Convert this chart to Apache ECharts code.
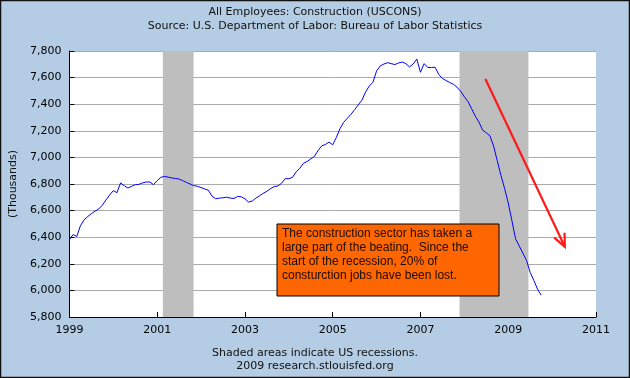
<!DOCTYPE html>
<html>
<head>
<meta charset="utf-8">
<script src="https://cdn.jsdelivr.net/npm/echarts@6/dist/echarts.min.js"></script>
<style>html,body{margin:0;padding:0;background:#b4cde4;}#c{width:630px;height:378px;}</style>
</head>
<body>
<div id="c"></div>
<script>
// Monthly values (thousands)
const firstYear = 1999;
const y1999 = [6380, 6420, 6405, 6485, 6530, 6555, 6577, 6595, 6612, 6640, 6680, 6717];
const y2000 = [6750, 6735, 6808, 6787, 6770, 6782, 6795, 6797, 6808, 6815, 6815, 6795];
const y2001 = [6825, 6850, 6857, 6852, 6845, 6842, 6837, 6825, 6812, 6800, 6788, 6783];
const y2002 = [6773, 6763, 6753, 6709, 6689, 6694, 6696, 6701, 6694, 6691, 6706, 6704];
const y2003 = [6689, 6664, 6672, 6694, 6711, 6730, 6745, 6765, 6780, 6785, 6805, 6840];
const y2004 = [6840, 6850, 6891, 6918, 6956, 6969, 6989, 7007, 7052, 7087, 7097, 7115];
const y2005 = [7095, 7150, 7216, 7264, 7294, 7324, 7359, 7395, 7430, 7493, 7536, 7565];
const y2006 = [7650, 7688, 7702, 7712, 7705, 7698, 7710, 7717, 7705, 7680, 7702, 7739];
const y2007 = [7640, 7705, 7676, 7676, 7678, 7624, 7593, 7578, 7563, 7550, 7528, 7497];
const y2008 = [7456, 7420, 7365, 7310, 7265, 7205, 7185, 7162, 7085, 6975, 6865, 6768];
const y2009 = [6658, 6525, 6388, 6335, 6280, 6225, 6135, 6075, 6010, 5965];

const recessionStart = [2001.13, 2007.89];
const recessionEnd   = [2001.83, 2009.46];

const titleText = 'All Employees: Construction (USCONS)';
const subtitleText = 'Source: U.S. Department of Labor: Bureau of Labor Statistics';
const footer1 = 'Shaded areas indicate US recessions.';
const footer2 = '2009 research.stlouisfed.org';
const yAxisName = '(Thousands)';
const noteText = 'The construction sector has taken a\nlarge part of the beating.  Since the\nstart of the recession, 20% of\nconsturction jobs have been lost.';
const arrowFrom = [2008.48, 7589];
const arrowTo = [2010.29, 6328];

const allValues = [].concat(y1999, y2000, y2001, y2002, y2003, y2004, y2005, y2006, y2007, y2008, y2009);
const seriesData = allValues.map((v, i) => [firstYear + i / 12, v]);

const chart = echarts.init(document.getElementById('c'), null, {renderer: 'canvas'});
const axisFont = {fontFamily: 'DejaVu Sans', fontSize: 11, color: '#000'};
const textStyle = {fontFamily: 'DejaVu Sans', fontSize: 11, fontWeight: 'normal', color: '#111'};

chart.setOption({
  backgroundColor: '#b4cde4',
  animation: false,
  title: [
    {text: titleText, left: 'center', top: 2, textStyle: textStyle},
    {text: subtitleText, left: 'center', top: 16, textStyle: textStyle},
    {text: footer1, left: 'center', top: 343, textStyle: textStyle},
    {text: footer2, left: 'center', top: 356, textStyle: textStyle}
  ],
  grid: {left: 67, right: 34, top: 51, bottom: 61, show: true, backgroundColor: '#fff', borderWidth: 0},
  xAxis: {
    type: 'value', min: 1999, max: 2011, interval: 2,
    axisLine: {show: true, lineStyle: {color: '#000', width: 1}},
    axisTick: {show: true, inside: true, length: 5, lineStyle: {color: '#000'}},
    axisLabel: Object.assign({margin: 8, formatter: v => String(v)}, axisFont),
    splitLine: {show: false}
  },
  yAxis: {
    type: 'value', min: 5800, max: 7800, interval: 200,
    name: yAxisName, nameLocation: 'middle', nameGap: 50, nameRotate: 90,
    nameTextStyle: {fontFamily: 'DejaVu Sans', fontSize: 11, color: '#111'},
    axisLine: {show: true, lineStyle: {color: '#000', width: 1}},
    axisTick: {show: true, inside: true, length: 5, lineStyle: {color: '#000'}},
    axisLabel: Object.assign({margin: 8, formatter: v => v.toLocaleString('en-US')}, axisFont),
    splitLine: {show: true, lineStyle: {color: '#aaaaaa', width: 1}}
  },
  series: [{
    type: 'line', data: seriesData, showSymbol: false, symbol: 'none',
    lineStyle: {color: '#0000ff', width: 1},
    z: 5,
    markArea: {
      silent: true,
      itemStyle: {color: '#bebebe', opacity: 1},
      data: recessionStart.map((s, i) => [{xAxis: s}, {xAxis: recessionEnd[i]}])
    }
  }]
});

function drawExtras() {
  const p0 = chart.convertToPixel({gridIndex: 0}, arrowFrom);
  const p1 = chart.convertToPixel({gridIndex: 0}, arrowTo);
  const dx = p1[0] - p0[0], dy = p1[1] - p0[1];
  const len = Math.sqrt(dx * dx + dy * dy);
  const ux = dx / len, uy = dy / len;
  const headLen = 14, ang = 0.42;
  const h1 = [p1[0] - headLen * (ux * Math.cos(ang) - uy * Math.sin(ang)), p1[1] - headLen * (uy * Math.cos(ang) + ux * Math.sin(ang))];
  const h2 = [p1[0] - headLen * (ux * Math.cos(-ang) - uy * Math.sin(-ang)), p1[1] - headLen * (uy * Math.cos(-ang) + ux * Math.sin(-ang))];
  chart.setOption({
    graphic: [
      {type: 'rect', z: 100, shape: {x: 277, y: 224, width: 222, height: 72},
       style: {fill: '#ff6600', stroke: '#000', lineWidth: 1}},
      {type: 'text', z: 101, x: 282, y: 227,
       style: {text: noteText, font: '12px "Liberation Sans", Arial, sans-serif', fill: '#1a0a00', lineHeight: 14}},
      {type: 'line', z: 100, shape: {x1: p0[0], y1: p0[1], x2: p1[0], y2: p1[1]},
       style: {stroke: '#ff1a1a', lineWidth: 2.2}},
      {type: 'polyline', z: 100, shape: {points: [h1, p1, h2]},
       style: {stroke: '#ff1a1a', lineWidth: 2.2, fill: null}},
      {type: 'rect', z: 200, silent: true, shape: {x: 0.5, y: 0.5, width: 629, height: 377},
       style: {fill: null, stroke: '#111', lineWidth: 1.5}}
    ]
  });
}
drawExtras();
</script>
</body>
</html>
